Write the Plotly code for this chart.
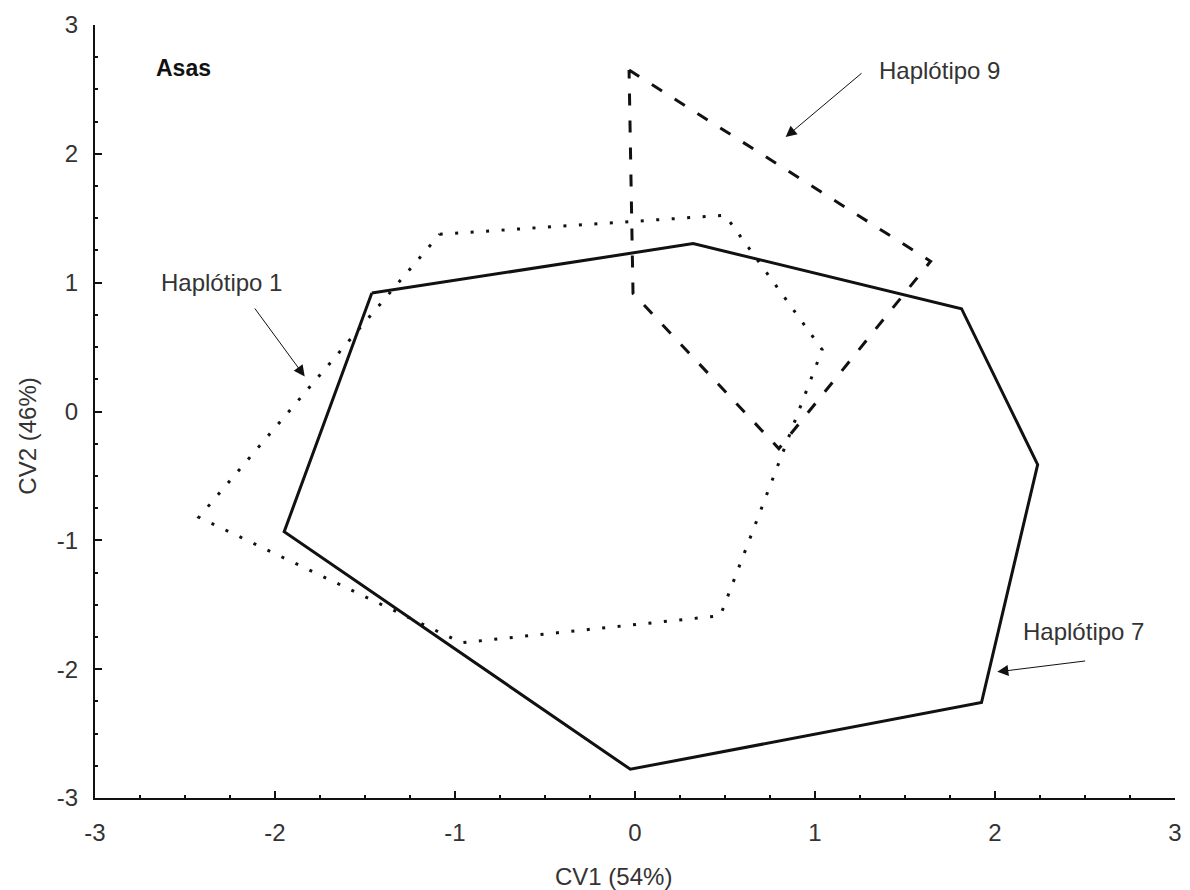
import plotly.graph_objects as go

# Convex hulls of the canonical-variate scores (CV1, CV2) per haplotype
hap1_x = [-1.085, 0.501, 1.040, 0.474, -0.964, -2.423, -1.085]
hap1_y = [1.376, 1.523, 0.480, -1.585, -1.795, -0.821, 1.376]

hap7_x = [-1.462, 0.323, 1.814, 2.237, 1.925, -0.026, -1.949, -1.462]
hap7_y = [0.919, 1.303, 0.798, -0.412, -2.259, -2.777, -0.933, 0.919]

hap9_x = [-0.033, 1.642, 0.799, -0.011, -0.033]
hap9_y = [2.650, 1.166, -0.288, 0.917, 2.650]

# Label text and its anchor, arrow tail and arrow head (data units)
labels = ["Haplótipo 1", "Haplótipo 7", "Haplótipo 9"]
label_x = [-2.300, 2.490, 1.344]
label_y = [1.003, -1.710, 2.650]
label_anchor = ["center", "center", "left"]
arrow_tail_x = [-2.118, 2.509, 1.267]
arrow_tail_y = [0.811, -1.935, 2.635]
arrow_head_x = [-1.835, 2.013, 0.837]
arrow_head_y = [0.272, -2.021, 2.130]

tick_vals = [-3, -2, -1, 0, 1, 2, 3]
tick_text = ["-3", "-2", "-1", "0", "1", "2", "3"]

FONT = "Liberation Sans, Arial, sans-serif"
INK = "#111111"
TXT = "#333333"

fig = go.Figure()
fig.add_trace(go.Scatter(x=hap1_x, y=hap1_y, mode="lines",
                         line=dict(color=INK, width=3, dash="3px,12.5px"),
                         name="Haplótipo 1", hoverinfo="skip"))
fig.add_trace(go.Scatter(x=hap7_x, y=hap7_y, mode="lines",
                         line=dict(color=INK, width=3),
                         name="Haplótipo 7", hoverinfo="skip"))
fig.add_trace(go.Scatter(x=hap9_x, y=hap9_y, mode="lines",
                         line=dict(color=INK, width=3, dash="12px,15px"),
                         name="Haplótipo 9", hoverinfo="skip"))

annotations = []
for t, lx, ly, anc in zip(labels, label_x, label_y, label_anchor):
    annotations.append(dict(x=lx, y=ly, xref="x", yref="y", text=t,
                            showarrow=False, xanchor=anc, yanchor="middle",
                            font=dict(family=FONT, size=24, color=TXT)))
for tx, ty, hx, hy in zip(arrow_tail_x, arrow_tail_y, arrow_head_x, arrow_head_y):
    annotations.append(dict(x=hx, y=hy, xref="x", yref="y",
                            ax=tx, ay=ty, axref="x", ayref="y",
                            text="", showarrow=True, arrowhead=2,
                            arrowsize=2.2, arrowwidth=1, arrowcolor=INK,
                            standoff=0, startstandoff=0))
annotations.append(dict(x=-2.507, y=2.67, xref="x", yref="y", text="<b>Asas</b>",
                        showarrow=False, xanchor="center", yanchor="middle",
                        font=dict(family=FONT, size=23, color=INK)))
annotations.append(dict(x=0.480, y=-0.102, xref="paper", yref="paper",
                        text="CV1 (54%)", showarrow=False,
                        xanchor="center", yanchor="middle",
                        font=dict(family=FONT, size=24, color=TXT)))
annotations.append(dict(x=-0.0626, y=0.468, xref="paper", yref="paper",
                        text="CV2 (46%)", showarrow=False, textangle=-90,
                        xanchor="center", yanchor="middle",
                        font=dict(family=FONT, size=24, color=TXT)))

axis_common = dict(
    range=[-3, 3], tickmode="array", tickvals=tick_vals, ticktext=tick_text,
    showgrid=False, zeroline=False, showline=True, linecolor=INK, linewidth=2,
    ticks="inside", ticklen=7, tickwidth=2, tickcolor=INK,
    tickfont=dict(family=FONT, size=24, color=TXT),
    minor=dict(dtick=0.25, tick0=0, ticks="inside", ticklen=3, tickwidth=2,
               tickcolor=INK, showgrid=False),
    mirror=False, fixedrange=True,
)

fig.update_layout(
    width=1190, height=890,
    margin=dict(l=95, r=8, t=25, b=92),
    paper_bgcolor="white", plot_bgcolor="white",
    showlegend=False,
    xaxis=dict(**axis_common, ticklabelstandoff=12),
    yaxis=dict(**axis_common, ticklabelstandoff=10),
    annotations=annotations,
)

fig.write_html("out.html")
